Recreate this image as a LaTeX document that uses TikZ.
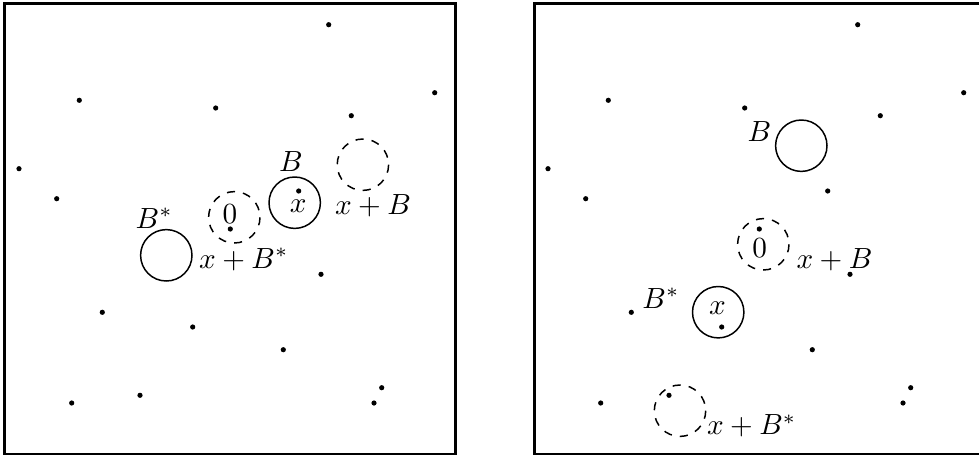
\documentclass[tikz,border=0pt]{standalone}
\begin{document}
\begin{tikzpicture}[x=0.37pt,y=-0.37pt,
  frame/.style={line width=0.9pt},
  ball/.style={line width=0.55pt},
  dball/.style={line width=0.55pt,dashed},
  pt/.style={circle,fill=black,inner sep=0pt,minimum size=5.2*0.37pt},
  lab/.style={inner sep=0pt,anchor=center,scale=1.08,transform shape}]
\useasboundingbox (0,0) rectangle (979,455);
% ---------- left panel ----------
\begin{scope}
\draw[frame] (4.7,3.5) rectangle (455.3,454);
\foreach \px/\py [count=\i] in {328.7/24.7,434.7/92.7,79.3/100.3,215.7/108,351.3/115.7,19/168.7,56.7/198.7,298.7/191,230.3/229,321/274.3,102.3/312.3,192.7/327,283.3/349.7,381.7/387.7,374/403,71.7/403,140/395.3}
  \node[pt] (L\i) at (\px,\py) {};
\draw[ball] (166.3,255.3) circle[radius=25.7];
\draw[dball] (234.3,217.3) circle[radius=25.7];
\draw[ball] (294.7,202.7) circle[radius=25.7];
\draw[dball] (362.9,164.7) circle[radius=25.7];
\node[lab] (LB) at (290.8,161.7) {$B$};
\node[lab] (Lx) at (298.3,206.3) {$x$};
\node[lab] (L0) at (230,213.8) {$0$};
\node[lab] (LBs) at (154.2,218.3) {$B^*$};
\node[lab] (LxBs) at (243.8,259.5) {$x+B^*$};
\node[lab] (LxB) at (373,206) {$x+B$};
\end{scope}
% ---------- right panel ----------
\begin{scope}[shift={(529,0)}]
\draw[frame] (5.7,3.5) rectangle (456.3,454);
\foreach \px/\py [count=\i] in {328.7/24.7,434.7/92.7,79.3/100.3,215.7/108,351.3/115.7,19/168.7,56.7/198.7,298.7/191,230.3/229,321/274.3,102.3/312.3,192.7/327,283.3/349.7,381.7/387.7,374/403,71.7/403,140/395.3}
  \node[pt] (R\i) at (\px,\py) {};
\draw[ball] (272.3,145.7) circle[radius=25.7];
\draw[dball] (234.3,244.3) circle[radius=25.7];
\draw[ball] (189.2,312.2) circle[radius=25.7];
\draw[dball] (151,410.7) circle[radius=25.7];
\node[lab] (RB) at (230.3,131.7) {$B$};
\node[lab] (R0) at (230.7,248.3) {$0$};
\node[lab] (RxB) at (305.5,259.7) {$x+B$};
\node[lab] (RBs) at (132,298.3) {$B^*$};
\node[lab] (Rx) at (188.5,308.3) {$x$};
\node[lab] (RxBs) at (222.7,425.8) {$x+B^*$};
\end{scope}
\end{tikzpicture}
\end{document}
